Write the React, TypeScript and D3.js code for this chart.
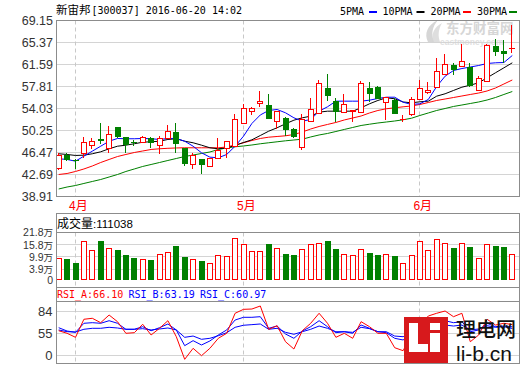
import React from "react";
import * as d3 from "d3";

const dates = ["2016-03-30","2016-03-31",
"2016-04-01","2016-04-05","2016-04-06","2016-04-07","2016-04-08","2016-04-11","2016-04-12","2016-04-13","2016-04-14","2016-04-15","2016-04-18","2016-04-19","2016-04-20","2016-04-21","2016-04-22","2016-04-25","2016-04-26","2016-04-27","2016-04-28","2016-04-29",
"2016-05-03","2016-05-04","2016-05-05","2016-05-06","2016-05-09","2016-05-10","2016-05-11","2016-05-12","2016-05-13","2016-05-16","2016-05-17","2016-05-18","2016-05-19","2016-05-20","2016-05-23","2016-05-24","2016-05-25","2016-05-26","2016-05-27","2016-05-30","2016-05-31",
"2016-06-01","2016-06-02","2016-06-03","2016-06-06","2016-06-07","2016-06-08","2016-06-13","2016-06-14","2016-06-15","2016-06-16","2016-06-17","2016-06-20"];

const openP = [43.85,45.96,45.15,46.30,47.68,48.82,47.28,50.82,49.10,48.30,48.31,49.00,47.73,48.90,50.03,47.16,44.41,45.27,44.12,45.56,47.16,47.55,51.57,53.62,55.01,54.55,51.85,52.48,50.54,47.45,51.85,53.29,57.59,55.29,53.40,53.68,53.46,57.59,57.69,55.12,55.46,52.26,53.12,55.70,56.78,57.64,60.04,61.47,61.25,61.08,57.16,58.84,64.74,63.88,64.40];
const highP = [46.42,46.42,45.30,49.17,49.00,51.57,50.99,50.90,49.20,48.70,49.27,49.20,49.27,51.15,51.46,47.20,46.42,45.40,45.56,49.00,48.45,53.12,54.84,54.30,57.00,56.56,53.60,52.60,50.60,53.17,55.75,58.90,60.04,55.87,56.56,53.72,58.72,58.55,57.98,56.00,55.87,52.83,56.00,59.00,58.50,62.79,63.31,61.88,65.11,61.93,59.70,65.10,66.02,65.77,68.46];
const lowP = [43.38,44.98,43.67,45.56,46.99,47.85,46.42,49.00,46.42,47.60,48.14,47.16,46.13,48.80,46.42,44.12,43.55,42.86,43.95,45.27,45.56,47.40,51.30,52.90,54.26,52.20,50.54,49.27,48.90,46.87,51.70,53.00,55.29,51.68,53.30,51.68,53.40,55.12,55.60,52.14,53.00,51.68,52.80,55.50,56.60,57.50,59.90,59.87,61.10,57.80,57.00,58.70,63.02,61.88,63.60];
const closeP = [45.96,45.15,44.97,48.24,48.41,48.42,49.69,49.10,47.73,48.15,49.10,48.14,49.00,50.25,47.85,44.53,45.96,44.29,45.44,46.82,48.41,52.26,54.15,54.20,55.29,52.26,53.57,50.42,49.10,52.26,53.86,58.45,56.15,53.46,54.72,53.72,58.33,56.44,55.70,55.97,53.17,52.30,55.58,57.47,57.25,60.39,61.76,60.73,62.23,57.90,59.31,64.98,63.74,63.31,64.50];

const ma5 = [45.39,45.27,44.98,45.84,46.70,47.55,48.41,48.88,48.83,48.83,48.88,48.83,48.71,48.88,48.88,48.41,47.55,46.42,45.67,45.56,46.13,47.55,49.27,51.46,52.92,53.69,53.86,53.29,52.43,51.85,52.14,53.57,54.32,55.29,55.29,55.29,55.29,55.46,55.75,55.97,55.97,55.11,54.72,54.84,55.58,57.81,59.58,60.56,60.90,61.16,61.42,61.76,61.88,61.93,63.14];
const ma10 = [46.25,46.13,45.96,46.01,46.25,46.59,47.11,47.55,47.73,47.97,48.24,48.31,48.41,48.71,48.83,48.41,48.14,47.73,47.28,47.11,47.25,47.68,48.19,48.65,49.39,50.13,50.72,51.40,52.02,52.43,52.71,53.40,53.57,53.57,53.57,53.57,54.15,54.84,55.41,55.87,55.70,55.15,55.01,55.18,55.29,56.15,56.56,57.13,57.69,58.04,58.45,59.31,60.17,61.02,61.88];
const ma20 = [42.69,42.86,43.21,43.64,44.15,44.75,45.27,45.78,46.13,46.47,46.73,46.99,47.11,47.19,47.25,47.28,47.28,47.28,47.28,47.28,47.42,47.76,48.14,48.53,48.88,49.10,49.22,49.34,49.56,49.99,50.51,50.94,51.29,51.63,52.06,52.40,52.74,53.26,53.69,53.98,54.15,54.32,54.46,54.72,55.06,55.41,55.66,55.92,56.18,56.44,56.69,57.04,57.55,58.24,58.93];
const ma30 = [40.20,40.54,40.80,41.15,41.49,41.83,42.26,42.69,43.21,43.64,44.07,44.41,44.75,45.10,45.44,45.78,46.04,46.30,46.56,46.99,47.25,47.45,47.59,47.76,47.97,48.14,48.31,48.48,48.62,48.76,49.14,49.48,49.74,50.08,50.43,50.77,51.11,51.33,51.54,51.71,51.88,52.09,52.36,52.83,53.26,53.69,54.03,54.38,54.63,54.89,55.15,55.49,55.92,56.44,56.95];

// volume, in 万 (10k shares)
const volume = [9.08,8.59,6.94,17.62,13.45,17.47,14.42,13.11,10.68,9.22,8.59,8.25,11.50,12.48,15.05,9.71,8.59,7.76,6.64,11.02,10.53,19.28,16.02,12.96,12.77,16.02,14.42,11.16,10.68,13.93,16.02,16.85,17.47,13.59,11.50,10.68,13.93,11.80,10.68,11.50,10.19,6.64,10.68,17.81,13.45,18.79,16.85,14.08,16.85,14.56,9.08,16.36,15.05,14.56,11.10];

const rsiA = [58.0,54.6,49.3,73.1,74.4,68.6,78.7,69.9,54.6,55.4,66.5,52.4,61.2,71.2,50.1,20.3,34.8,25.1,34.8,48.0,54.6,81.0,86.2,86.6,90.6,59.9,64.6,43.5,33.9,58.0,67.8,81.0,67.8,49.3,54.6,48.0,69.9,63.3,54.6,54.6,35.6,31.7,52.4,65.5,77.4,81.0,84.0,76.5,81.0,43.5,52.4,73.1,65.5,67.8,66.10];
const rsiB = [62.0,57.6,55.9,67.8,68.6,67.8,71.2,67.8,59.9,59.9,63.3,58.0,62.0,66.9,59.0,38.3,44.9,39.2,44.5,52.4,59.0,72.1,75.7,75.7,76.5,61.2,64.2,53.7,48.0,57.6,63.3,71.2,63.3,55.4,56.7,54.6,65.5,61.2,56.7,55.4,48.0,45.8,54.6,62.0,67.8,69.9,71.2,68.6,69.9,56.7,59.0,67.8,63.3,64.2,63.19];
const rsiC = [59.0,56.7,56.3,59.9,61.2,61.2,62.5,61.6,59.9,59.9,60.7,59.0,60.3,61.6,59.0,49.3,51.0,46.7,48.0,51.4,55.4,62.5,65.2,66.0,66.9,59.9,61.2,55.9,53.3,56.7,59.9,64.2,61.2,56.7,56.7,55.9,62.5,60.7,56.7,56.7,51.0,50.1,54.6,59.0,63.3,64.6,65.5,64.2,65.5,59.0,60.3,64.6,62.5,63.3,60.97];

const priceTicks = [69.15, 65.37, 61.59, 57.81, 54.03, 50.25, 46.47, 42.69, 38.91];
const volTicks = [21.8, 15.8, 9.9, 3.9, 0];
const volTickLabels = ["21.8万", "15.8万", "9.9万", "3.9万", "0"];
const rsiTicks = [84, 55, 26];
const rsiTickLabels = ["84", "55", "0"];

const maNames = ["5PMA", "10PMA", "20PMA", "30PMA"];
const maColors = ["#0000ff", "#000000", "#ff0000", "#008000"];

const title = ["新宙邦", "[300037] 2016-06-20 14:02"];
const volTitle = ["成交量", ":111038"];
const rsiLabels = ["RSI_A:66.10", "RSI_B:63.19", "RSI_C:60.97"];

const RED = "#ff0000";
const GREEN = "#008000";
const GRID = "#d4d4d4";
const BORDER = "#8c8c8c";
const MONO = "'DejaVu Sans Mono', monospace";
const SANS = "'Liberation Sans', Arial, sans-serif";
const CJK = "'Noto Sans CJK SC', sans-serif";

export default function App() {
  const n = dates.length;
  const idx = d3.range(n);
  const x = d3.scalePoint<number>().domain(idx).range([58.7, 512.3]);
  const yP = d3.scaleLinear().domain([38.91, 69.15]).range([196.5, 20.5]);
  const yV = d3.scaleLinear().domain([0, 21.8]).range([277, 232.5]);
  const volFloor = 280;
  const yR = d3.scaleLinear().domain([26, 84]).range([355, 311]);
  const L = 56.5, R = 519.5;
  const hp = (v: number) => Math.round(v - 0.5) + 0.5;

  const monthStarts = idx.filter(i => i > 0 && dates[i].slice(5, 7) !== dates[i - 1].slice(5, 7));

  const mkLine = (s: d3.ScaleLinear<number, number>) =>
    d3.line<number>().x((_, i) => x(i) as number).y(v => s(v));
  const lineP = mkLine(yP);
  const lineR = mkLine(yR);

  const panels = [
    { top: 20.5, bottom: 196.5 },
    { top: 232.5, bottom: 287.5 },
    { top: 301.5, bottom: 363.5 },
  ];

  const candles = idx.map(i => {
    const cx = Math.round(x(i) as number);
    const up = closeP[i] >= openP[i];
    const col = up ? RED : GREEN;
    const yo = Math.round(yP(openP[i])), yc = Math.round(yP(closeP[i]));
    const yh = Math.round(yP(highP[i])), yl = Math.round(yP(lowP[i]));
    const top = Math.min(yo, yc), bot = Math.max(yo, yc);
    const wx = cx - 0.5;
    return (
      <g key={"c" + i}>
        <line x1={wx} x2={wx} y1={yh} y2={top} stroke={col} />
        <line x1={wx} x2={wx} y1={bot} y2={yl} stroke={col} />
        {bot - top < 1 ? (
          <line x1={cx - 3} x2={cx + 3} y1={top + 0.5} y2={top + 0.5} stroke={col} />
        ) : up ? (
          <rect x={cx - 2.5} y={top + 0.5} width={5} height={bot - top} fill="#fff" stroke={col} />
        ) : (
          <rect x={cx - 3} y={top} width={6} height={bot - top} fill={col} />
        )}
      </g>
    );
  });

  const vbars = idx.map(i => {
    const cx = Math.round(x(i) as number);
    const up = closeP[i] >= openP[i];
    const yt = Math.round(yV(volume[i]));
    const base = volFloor;
    return up ? (
      <rect key={"v" + i} x={cx - 2.5} y={yt + 0.5} width={5} height={base - yt - 1} fill="#fff" stroke={RED} />
    ) : (
      <rect key={"v" + i} x={cx - 3} y={yt} width={6} height={base - yt} fill={GREEN} />
    );
  });

  const legendX = [340, 382.5, 430.5, 477];
  const legendSw = [369, 416.5, 463, 509];

  return (
    <svg width={520} height={365} style={{ position: "absolute", left: 0, top: 0, background: "#fff" }}
      xmlns="http://www.w3.org/2000/svg">
      <rect x={0} y={0} width={520} height={365} fill="#fff" />

      {/* eastmoney watermark */}
      <g fill="#d6d6d6">
        <path d="M428,42 C424,34 427,25 438,20 C432,27 431,34 434,42 Z" />
        <path d="M433,42 C431,34 434,27 442,23 C438,30 438,36 440,42 Z" opacity={0.8} />
        <text x={446} y={33} fontSize={13.5} fontWeight={700} fontFamily={CJK}>东方财富网</text>
        <text x={440} y={44.5} fontSize={8.5} fontWeight={700} fontFamily={SANS} fill="#e0e0e0">eastmoney.com</text>
      </g>

      {/* title */}
      <text x={56} y={14} fontSize={10} fontFamily={MONO} fill="#000">
        <tspan fontFamily={CJK} fontSize={11.5}>{title[0]}</tspan>
        <tspan dx={1}>{title[1]}</tspan>
      </text>

      {/* legend */}
      {maNames.map((m, k) => (
        <g key={m}>
          <text x={legendX[k]} y={15} fontSize={10} fontFamily={MONO} fill="#000">{m}</text>
          <rect x={legendSw[k]} y={11} width={8} height={2} fill={maColors[k]} />
        </g>
      ))}

      {/* grids */}
      {priceTicks.slice(1, -1).map(t => (
        <line key={"gp" + t} x1={L} x2={R} y1={hp(yP(t))} y2={hp(yP(t))} stroke={GRID} />
      ))}
      {volTicks.slice(1, -1).map(t => (
        <line key={"gv" + t} x1={L} x2={R} y1={hp(yV(t))} y2={hp(yV(t))} stroke={GRID} />
      ))}
      {rsiTicks.map(t => (
        <line key={"gr" + t} x1={L} x2={R} y1={hp(yR(t))} y2={hp(yR(t))} stroke={GRID} />
      ))}
      {monthStarts.map(i =>
        panels.map((p, k) => (
          <line key={"m" + i + "-" + k} x1={hp(x(i) as number)} x2={hp(x(i) as number)} y1={p.top} y2={p.bottom}
            stroke="#c8c8c8" strokeDasharray="4,3" />
        ))
      )}

      {/* MA lines */}
      {[ma30, ma20, ma10, ma5].map((s, k) => (
        <path key={"ma" + k} d={lineP(s) || ""} fill="none" stroke={maColors[3 - k]} strokeWidth={1} />
      ))}

      {candles}
      {vbars}

      {/* RSI lines */}
      <path d={lineR(rsiC) || ""} fill="none" stroke="#0000ff" strokeWidth={1} />
      <path d={lineR(rsiB) || ""} fill="none" stroke="#0000ff" strokeWidth={1} />
      <path d={lineR(rsiA) || ""} fill="none" stroke={RED} strokeWidth={1} />

      {/* frames */}
      <rect x={L} y={20.5} width={R - L} height={176} fill="none" stroke={BORDER} />
      <rect x={L} y={213.5} width={R - L} height={74} fill="none" stroke={BORDER} />
      <line x1={L} x2={R} y1={232.5} y2={232.5} stroke={BORDER} />
      <rect x={L} y={287.5} width={R - L} height={76} fill="none" stroke={BORDER} />
      <line x1={L} x2={R} y1={301.5} y2={301.5} stroke={BORDER} />

      {/* price axis labels */}
      {priceTicks.map(t => (
        <text key={"pl" + t} x={53} y={yP(t) + 4.5} textAnchor="end" fontSize={12.5} fontFamily={SANS} fill="#333">
          {t.toFixed(2)}
        </text>
      ))}

      {/* month labels */}
      {monthStarts.map(i => (
        <text key={"ml" + i} x={(x(i) as number) - 6.5} y={209.5} fontSize={12} fontFamily={SANS} fill={RED}>
          {+dates[i].slice(5, 7)}<tspan fontFamily={CJK}>月</tspan>
        </text>
      ))}

      {/* volume header & axis */}
      <text x={57} y={227.5} fontSize={11.5} fontFamily={SANS} fill="#000">
        <tspan fontFamily={CJK} fontSize={12}>{volTitle[0]}</tspan>
        <tspan>{volTitle[1]}</tspan>
      </text>
      {volTicks.map((t, k) => (
        <text key={"vl" + t} x={53} y={(t === 0 ? volFloor : yV(t)) + 3.8} textAnchor="end" fontSize={10.5}
          fontFamily={SANS} fill="#333">
          {volTickLabels[k].replace("万", "")}
          {volTickLabels[k].includes("万") && <tspan fontFamily={CJK} fontSize={9.5}>万</tspan>}
        </text>
      ))}

      {/* RSI header & axis */}
      <text x={57} y={297.5} fontSize={10} fontFamily={MONO} fill={RED}>{rsiLabels[0]}</text>
      <text x={128.5} y={297.5} fontSize={10} fontFamily={MONO} fill="#0000ff">{rsiLabels[1]}</text>
      <text x={200} y={297.5} fontSize={10} fontFamily={MONO} fill="#0000ff">{rsiLabels[2]}</text>
      {rsiTicks.map((t, k) => (
        <text key={"rl" + t} x={52.5} y={yR(t) + 4.5} textAnchor="end" fontSize={13} fontFamily={SANS} fill="#333">
          {rsiTickLabels[k]}
        </text>
      ))}

      {/* li-b.cn logo */}
      <g>
        <rect x={404} y={317} width={44} height={46} fill="#d7191c" />
        <rect x={409} y={323} width={9} height={29} fill="#fff" />
        <rect x={409} y={344} width={19} height={8} fill="#fff" />
        <rect x={430} y={323} width={10} height={7} fill="#fff" />
        <rect x={430} y={333} width={10} height={19} fill="#fff" />
        <text x={456} y={337} fontSize={20} fontFamily={CJK} fontWeight={500} fill="#111">理电网</text>
        <text x={456} y={361} fontSize={21} fontFamily={SANS} fill="#111">li-b.cn</text>
      </g>
    </svg>
  );
}
